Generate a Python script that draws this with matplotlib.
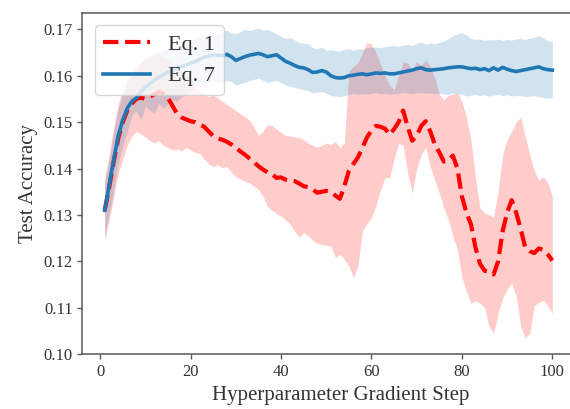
"""Test accuracy vs hyperparameter gradient step, Eq. 1 vs Eq. 7 with spread bands."""

import numpy as np
import matplotlib.pyplot as plt

plt.switch_backend("Agg")
plt.rcParams["font.family"] = "serif"
plt.rcParams["font.serif"] = ["Liberation Serif", "DejaVu Serif"]

steps = np.arange(1, 101)

# Eq. 1 (red, dashed)
eq1_mean = [
    0.1310, 0.1360, 0.1415, 0.1465, 0.1500, 0.1525, 0.1540, 0.1550, 0.1553, 0.1550,
    0.1555, 0.1560, 0.1565, 0.1562, 0.1552, 0.1535, 0.1518, 0.1510, 0.1506, 0.1502,
    0.1500, 0.1495, 0.1490, 0.1480, 0.1470, 0.1465, 0.1462, 0.1458, 0.1452, 0.1445,
    0.1437, 0.1430, 0.1422, 0.1414, 0.1405, 0.1398, 0.1392, 0.1388, 0.1380, 0.1381,
    0.1376, 0.1374, 0.1373, 0.1368, 0.1362, 0.1360, 0.1355, 0.1348, 0.1350, 0.1352,
    0.1350, 0.1342, 0.1335, 0.1362, 0.1395, 0.1410, 0.1424, 0.1445, 0.1467, 0.1482,
    0.1492, 0.1490, 0.1486, 0.1473, 0.1485, 0.1500, 0.1525, 0.1490, 0.1460, 0.1470,
    0.1492, 0.1502, 0.1480, 0.1452, 0.1435, 0.1415, 0.1418, 0.1428, 0.1400, 0.1340,
    0.1305, 0.1280, 0.1230, 0.1195, 0.1180, 0.1178, 0.1172, 0.1200, 0.1265, 0.1305,
    0.1332, 0.1305, 0.1270, 0.1230, 0.1222, 0.1218, 0.1228, 0.1225, 0.1215, 0.1202,
]
eq1_hi = [
    0.1380, 0.1430, 0.1490, 0.1540, 0.1570, 0.1590, 0.1610, 0.1620, 0.1630, 0.1640,
    0.1645, 0.1650, 0.1648, 0.1640, 0.1635, 0.1628, 0.1620, 0.1610, 0.1600, 0.1592,
    0.1580, 0.1568, 0.1560, 0.1555, 0.1558, 0.1552, 0.1545, 0.1538, 0.1532, 0.1525,
    0.1518, 0.1512, 0.1504, 0.1490, 0.1472, 0.1480, 0.1495, 0.1493, 0.1485, 0.1478,
    0.1472, 0.1470, 0.1468, 0.1467, 0.1462, 0.1455, 0.1450, 0.1446, 0.1450, 0.1455,
    0.1452, 0.1458, 0.1445, 0.1455, 0.1610, 0.1620, 0.1628, 0.1650, 0.1672, 0.1668,
    0.1650, 0.1625, 0.1600, 0.1580, 0.1570, 0.1600, 0.1630, 0.1628, 0.1612, 0.1630,
    0.1622, 0.1634, 0.1620, 0.1595, 0.1560, 0.1548, 0.1558, 0.1560, 0.1563, 0.1545,
    0.1510, 0.1462, 0.1380, 0.1315, 0.1305, 0.1300, 0.1296, 0.1350, 0.1430, 0.1462,
    0.1480, 0.1500, 0.1511, 0.1470, 0.1430, 0.1395, 0.1375, 0.1382, 0.1370, 0.1339,
]
eq1_lo = [
    0.1245, 0.1290, 0.1340, 0.1390, 0.1420, 0.1450, 0.1470, 0.1480, 0.1475, 0.1468,
    0.1460, 0.1455, 0.1460, 0.1450, 0.1445, 0.1440, 0.1442, 0.1438, 0.1446, 0.1440,
    0.1435, 0.1433, 0.1420, 0.1410, 0.1404, 0.1408, 0.1402, 0.1404, 0.1392, 0.1382,
    0.1378, 0.1372, 0.1369, 0.1362, 0.1355, 0.1340, 0.1318, 0.1310, 0.1302, 0.1298,
    0.1289, 0.1280, 0.1265, 0.1252, 0.1262, 0.1255, 0.1246, 0.1239, 0.1236, 0.1235,
    0.1233, 0.1209, 0.1215, 0.1205, 0.1190, 0.1165, 0.1190, 0.1267, 0.1280, 0.1295,
    0.1320, 0.1353, 0.1381, 0.1380, 0.1420, 0.1454, 0.1450, 0.1390, 0.1347, 0.1400,
    0.1430, 0.1446, 0.1403, 0.1375, 0.1347, 0.1315, 0.1290, 0.1255, 0.1225, 0.1165,
    0.1135, 0.1110, 0.1115, 0.1110, 0.1100, 0.1060, 0.1045, 0.1088, 0.1120, 0.1140,
    0.1153, 0.1125, 0.1060, 0.1035, 0.1045, 0.1105, 0.1112, 0.1116, 0.1105, 0.1088,
]

# Eq. 7 (blue, solid)
eq7_mean = [
    0.1310, 0.1365, 0.1420, 0.1470, 0.1505, 0.1530, 0.1545, 0.1552, 0.1565, 0.1575,
    0.1583, 0.1590, 0.1597, 0.1602, 0.1608, 0.1612, 0.1617, 0.1620, 0.1623, 0.1627,
    0.1630, 0.1635, 0.1640, 0.1642, 0.1645, 0.1644, 0.1643, 0.1646, 0.1641, 0.1633,
    0.1637, 0.1641, 0.1644, 0.1646, 0.1648, 0.1645, 0.1641, 0.1643, 0.1645, 0.1638,
    0.1631, 0.1627, 0.1622, 0.1618, 0.1617, 0.1613, 0.1607, 0.1608, 0.1611, 0.1608,
    0.1600, 0.1596, 0.1595, 0.1596, 0.1600, 0.1601, 0.1603, 0.1604, 0.1602, 0.1604,
    0.1606, 0.1605, 0.1606, 0.1604, 0.1604, 0.1606, 0.1608, 0.1610, 0.1612, 0.1615,
    0.1617, 0.1613, 0.1612, 0.1613, 0.1614, 0.1615, 0.1617, 0.1618, 0.1619, 0.1619,
    0.1617, 0.1615, 0.1616, 0.1613, 0.1615, 0.1611, 0.1617, 0.1612, 0.1618, 0.1614,
    0.1611, 0.1609, 0.1611, 0.1613, 0.1615, 0.1617, 0.1619, 0.1615, 0.1613, 0.1612,
]
eq7_hi = [
    0.1370, 0.1420, 0.1480, 0.1530, 0.1560, 0.1590, 0.1600, 0.1610, 0.1625, 0.1635,
    0.1640, 0.1648, 0.1650, 0.1655, 0.1660, 0.1658, 0.1665, 0.1668, 0.1672, 0.1675,
    0.1680, 0.1685, 0.1683, 0.1690, 0.1692, 0.1688, 0.1695, 0.1698, 0.1692, 0.1690,
    0.1695, 0.1700, 0.1697, 0.1700, 0.1703, 0.1698, 0.1700, 0.1695, 0.1690, 0.1685,
    0.1680, 0.1682, 0.1677, 0.1672, 0.1670, 0.1668, 0.1660, 0.1658, 0.1662, 0.1655,
    0.1656, 0.1654, 0.1653, 0.1656, 0.1658, 0.1655, 0.1658, 0.1657, 0.1660, 0.1661,
    0.1662, 0.1660, 0.1663, 0.1664, 0.1665, 0.1663, 0.1666, 0.1668, 0.1665, 0.1670,
    0.1672, 0.1668, 0.1670, 0.1669, 0.1672, 0.1675, 0.1680, 0.1686, 0.1690, 0.1693,
    0.1688, 0.1680, 0.1678, 0.1679, 0.1676, 0.1678, 0.1677, 0.1679, 0.1676, 0.1678,
    0.1677, 0.1679, 0.1680, 0.1678, 0.1681, 0.1683, 0.1686, 0.1682, 0.1675, 0.1674,
]
eq7_lo = [
    0.1255, 0.1300, 0.1355, 0.1410, 0.1450, 0.1480, 0.1515, 0.1525, 0.1505, 0.1535,
    0.1525, 0.1520, 0.1541, 0.1530, 0.1541, 0.1548, 0.1545, 0.1555, 0.1560, 0.1568,
    0.1575, 0.1582, 0.1585, 0.1586, 0.1588, 0.1586, 0.1585, 0.1590, 0.1588, 0.1580,
    0.1583, 0.1586, 0.1590, 0.1592, 0.1595, 0.1590, 0.1586, 0.1588, 0.1590, 0.1585,
    0.1580, 0.1577, 0.1575, 0.1572, 0.1570, 0.1568, 0.1563, 0.1565, 0.1566, 0.1562,
    0.1558, 0.1556, 0.1555, 0.1557, 0.1560, 0.1562, 0.1560, 0.1561, 0.1560, 0.1562,
    0.1563, 0.1561, 0.1562, 0.1560, 0.1561, 0.1562, 0.1564, 0.1563, 0.1561, 0.1563,
    0.1564, 0.1562, 0.1563, 0.1561, 0.1562, 0.1561, 0.1560, 0.1562, 0.1561, 0.1560,
    0.1556, 0.1558, 0.1560, 0.1557, 0.1559, 0.1556, 0.1558, 0.1560, 0.1557, 0.1559,
    0.1556, 0.1558, 0.1557, 0.1555, 0.1556, 0.1557, 0.1555, 0.1553, 0.1552, 0.1553,
]

fig = plt.figure(figsize=(5.7, 4.09), dpi=100)
ax = fig.add_axes([0.1444, 0.1337, 0.8639, 0.8345])

ax.fill_between(steps, eq1_lo, eq1_hi, color="red", alpha=0.2, lw=0)
ax.plot(steps, eq1_mean, color="red", ls="--", lw=3.0, label="Eq. 1")
ax.fill_between(steps, eq7_lo, eq7_hi, color="#1f77b4", alpha=0.2, lw=0)
ax.plot(steps, eq7_mean, color="#1f77b4", lw=2.6, label="Eq. 7")

ax.set_xlim(-3.95, 104.95)
ax.set_ylim(0.10, 0.1735)
ax.set_xticks([0, 20, 40, 60, 80, 100])
ax.set_yticks([0.10, 0.11, 0.12, 0.13, 0.14, 0.15, 0.16, 0.17])
ax.set_yticklabels([f"{v:.2f}" for v in ax.get_yticks()])

for s in ax.spines.values():
    s.set_color("0.35")
    s.set_linewidth(1.1)
ax.tick_params(direction="out", length=3.5, width=1.0, color="0.35",
               labelsize=12, labelcolor="0.2")
ax.set_xlabel("Hyperparameter Gradient Step", fontsize=15, color="0.2", x=0.525)
ax.set_ylabel("Test Accuracy", fontsize=15, color="0.2")

leg = ax.legend(loc="upper left", fontsize=16, handlelength=2.1,
                borderaxespad=0.55)
for t in leg.get_texts():
    t.set_color("0.2")

fig.savefig("out.png", dpi=100)
